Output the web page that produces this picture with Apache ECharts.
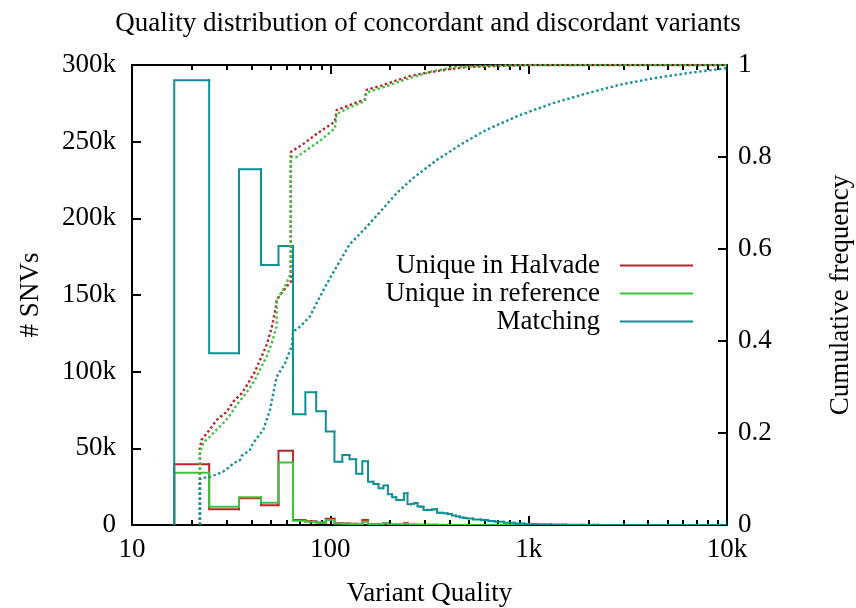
<!DOCTYPE html>
<html>
<head>
<meta charset="utf-8">
<title>Quality distribution of concordant and discordant variants</title>
<script src="https://cdn.jsdelivr.net/npm/echarts@6/dist/echarts.min.js"></script>
<style>
  html, body { margin: 0; padding: 0; background: #fff; }
  #chart { width: 856px; height: 608px; }
</style>
</head>
<body>
<div id="chart"></div>
<script>
// Histogram bin centres (variant quality); spacing widens in the sparse tail
const qualBins = [
  20, 30, 40, 50, 60, 70, 80, 90, 100, 110, 120, 130, 140, 150, 160, 170, 180, 190,
  200, 210, 220, 230, 240, 250, 260, 270, 280, 290, 300, 310, 320, 330, 340, 350,
  360, 380, 400, 420, 440, 460, 480, 500, 550, 600, 650, 700, 800, 900, 1000,
  1200, 1400, 1700, 2000, 2500, 3000, 4000, 6000, 10000
];

// SNV counts per bin
const halvadeCounts = [
  39600, 10200, 17400, 12800, 48500, 3300, 2400, 1600, 4100, 1100, 900, 800, 700, 3300, 500, 500, 400, 900,
  300, 300, 300, 200, 1200, 200, 200, 100, 100, 100, 100, 100, 100, 100, 100, 50,
  50, 50, 50, 40, 40, 30, 30, 20, 20, 10, 10, 10, 0, 0, 0,
  0, 0, 0, 0, 0, 0, 0, 0, 0
];
const referenceCounts = [
  34100, 11900, 18100, 14500, 40700, 2800, 2200, 1500, 3300, 900, 800, 700, 600, 2200, 500, 400, 400, 1100,
  300, 200, 200, 200, 800, 200, 200, 100, 100, 100, 100, 100, 100, 100, 100, 50,
  50, 50, 50, 40, 40, 30, 30, 20, 20, 10, 10, 10, 0, 0, 0,
  0, 0, 0, 0, 0, 0, 0, 0, 0
];
const matchingCounts = [
  290000, 112000, 232000, 169600, 182000, 72300, 86500, 74200, 60900, 41300, 45600, 42800, 33500, 41500, 28200, 26700, 23900, 25800,
  20000, 18100, 16300, 16300, 20700, 13500, 13800, 14300, 12000, 11900, 9800, 9800, 9800, 10200, 10200, 8000,
  8000, 7600, 7200, 6200, 5500, 4900, 4600, 4200, 3600, 3300, 2600, 2200, 1400, 900, 650,
  450, 330, 200, 120, 60, 30, 10, 0, 0
];

// Cumulative frequency curves: [quality, fraction]
const halvadeCumulative = [
  [22.0, 0], [22.0, 0.167], [22.4, 0.185], [24.2, 0.203], [26.7, 0.228], [30.0, 0.246], [32.4, 0.268],
  [35.7, 0.286], [38.5, 0.308], [41.6, 0.333], [45.0, 0.366], [47.7, 0.391], [50.6, 0.428], [53.0, 0.471],
  [53.6, 0.489], [56.8, 0.504], [60.2, 0.518], [63.2, 0.529], [63.2, 0.811], [72.9, 0.828], [85.2, 0.85],
  [98.3, 0.868], [105.4, 0.877], [107.5, 0.902], [125.4, 0.913], [149.2, 0.925], [152.2, 0.946],
  [177.6, 0.954], [207.2, 0.964], [251.5, 0.976], [305.3, 0.983], [399.9, 0.991], [504.5, 0.996],
  [739.6, 0.998], [1012, 1.0], [10000, 1.0]
];
const referenceCumulative = [
  [22.0, 0], [22.0, 0.159], [23.05, 0.181], [24.7, 0.192], [26.7, 0.207], [29.4, 0.225], [31.2, 0.239],
  [33.7, 0.261], [36.4, 0.279], [38.5, 0.293], [41.6, 0.315], [44.1, 0.337], [47.7, 0.366], [50.6, 0.395],
  [53.6, 0.431], [53.6, 0.489], [59.0, 0.518], [63.2, 0.547], [63.2, 0.80], [67.6, 0.80], [88.5, 0.835],
  [105.4, 0.862], [107.5, 0.893], [125.4, 0.908], [149.2, 0.921], [152.2, 0.94], [177.6, 0.949],
  [215.5, 0.962], [317.2, 0.985], [414.1, 0.995], [612.3, 0.998], [1012, 1.0], [10000, 1.0]
];
const matchingCumulative = [
  [22.0, 0], [22.0, 0.100], [22.8, 0.102], [25.7, 0.107], [28.8, 0.116], [31.2, 0.127], [32.4, 0.134],
  [35.0, 0.141], [35.7, 0.15], [39.3, 0.163], [40.8, 0.178], [45.9, 0.207], [49.6, 0.25], [53.6, 0.322],
  [59.0, 0.351], [63.8, 0.388], [64.9, 0.42], [70.2, 0.431], [78.8, 0.453], [88.5, 0.496], [99.4, 0.536],
  [125, 0.61], [150, 0.645], [184.5, 0.688], [215.5, 0.721], [261.3, 0.754], [342.8, 0.793],
  [449.2, 0.826], [612.3, 0.859], [900.8, 0.891], [1326, 0.917], [1953, 0.938], [2873, 0.957],
  [4229, 0.971], [6231, 0.982], [10000, 0.993]
];

// Axis ticks
const majorQualTicks = [10, 100, 1000, 10000];
const minorQualTicks = [20, 30, 40, 50, 60, 70, 80, 90, 200, 300, 400, 500, 600, 700, 800, 900,
  2000, 3000, 4000, 5000, 6000, 7000, 8000, 9000];
const qualTickLabels = { 10: '10', 100: '100', 1000: '1k', 10000: '10k' };

const seriesNames = ['Unique in Halvade', 'Unique in reference', 'Matching'];
const RED = '#b8242a';
const GREEN = '#3cc23c';
const TEAL = '#0e9095';
const FONT = '"Liberation Serif", "Times New Roman", serif';
const FS = 27;

// Draws one bin of a step histogram: rise from the previous bin's level at the
// left edge, then across to the right edge. Edges sit at geometric midpoints
// between neighbouring bin centres (midpoints on the log axis).
function histStep(values, color) {
  return function (params, api) {
    const i = params.dataIndex;
    const n = qualBins.length;
    const q = qualBins[i];
    const lo = i === 0 ? q * Math.sqrt(q / qualBins[1]) : Math.sqrt(qualBins[i - 1] * q);
    const hi = i === n - 1 ? q * Math.sqrt(q / qualBins[n - 2]) : Math.sqrt(q * qualBins[i + 1]);
    const prev = i === 0 ? 0 : values[i - 1];
    const a = api.coord([lo, prev]);
    const b = api.coord([lo, values[i]]);
    const c = api.coord([hi, values[i]]);
    return {
      type: 'polyline',
      shape: { points: [a, b, c] },
      style: { stroke: color, lineWidth: 2, fill: null, lineCap: 'square', lineJoin: 'miter' }
    };
  };
}

function histSeries(name, values, color) {
  return {
    name: name,
    type: 'custom',
    xAxisIndex: 0,
    yAxisIndex: 0,
    clip: true,
    silent: true,
    itemStyle: { color: color },
    renderItem: histStep(values, color),
    encode: { x: 0, y: 1 },
    data: qualBins.map((q, i) => [q, values[i]])
  };
}

function cumulativeSeries(name, points, color) {
  return {
    name: name,
    type: 'line',
    xAxisIndex: 0,
    yAxisIndex: 1,
    showSymbol: false,
    silent: true,
    clip: true,
    lineStyle: { color: color, width: 2.4, type: [2.4, 2.6], cap: 'butt' },
    data: points
  };
}

function qualAxis(position, ticks, tickLen, withLabels) {
  return {
    type: 'log',
    logBase: 10,
    position: position,
    min: 10,
    max: 10000,
    axisLine: { show: false },
    splitLine: { show: false },
    axisTick: { show: true, inside: true, length: tickLen, customValues: ticks,
      lineStyle: { color: '#000', width: 2 } },
    axisLabel: withLabels ? {
      show: true, customValues: majorQualTicks, margin: 11,
      fontFamily: FONT, fontSize: FS, color: '#000',
      formatter: v => qualTickLabels[Math.round(v)] || ''
    } : { show: false }
  };
}

const chart = echarts.init(document.getElementById('chart'), null, { renderer: 'canvas' });

const xMain = qualAxis('bottom', majorQualTicks, 9, true);
xMain.name = 'Variant Quality';
xMain.nameLocation = 'middle';
xMain.nameGap = 55;
xMain.nameTextStyle = { fontFamily: FONT, fontSize: FS, color: '#000' };

chart.setOption({
  animation: false,
  backgroundColor: '#fff',
  title: {
    text: 'Quality distribution of concordant and discordant variants',
    left: 'center',
    top: 5,
    textStyle: { fontFamily: FONT, fontSize: FS, fontWeight: 'normal', color: '#000' }
  },
  legend: {
    orient: 'vertical',
    align: 'right',
    right: 163,
    top: 252,
    padding: 0,
    itemGap: 1,
    itemWidth: 73,
    itemHeight: 2,
    selectedMode: false,
    textStyle: { fontFamily: FONT, fontSize: FS, color: '#000', padding: [0, 15, 0, 0] },
    data: [
      { name: seriesNames[0], icon: 'rect', itemStyle: { color: RED } },
      { name: seriesNames[1], icon: 'rect', itemStyle: { color: GREEN } },
      { name: seriesNames[2], icon: 'rect', itemStyle: { color: TEAL } }
    ]
  },
  grid: {
    left: 132, right: 129, top: 65, bottom: 83,
    outerBoundsMode: 'none',
    containLabel: false,
    show: true, borderColor: '#000', borderWidth: 2, backgroundColor: 'transparent'
  },
  xAxis: [
    xMain,
    qualAxis('bottom', minorQualTicks, 5, false),
    qualAxis('top', majorQualTicks, 9, false),
    qualAxis('top', minorQualTicks, 5, false)
  ],
  yAxis: [
    {
      type: 'value', position: 'left', min: 0, max: 300000, interval: 50000,
      name: '# SNVs', nameLocation: 'middle', nameGap: 88, nameRotate: 90,
      nameTextStyle: { fontFamily: FONT, fontSize: FS, color: '#000' },
      axisLine: { show: false },
      splitLine: { show: false },
      axisTick: { show: true, inside: true, length: 9, lineStyle: { color: '#000', width: 2 } },
      axisLabel: {
        margin: 16, fontFamily: FONT, fontSize: FS, color: '#000',
        formatter: v => (v === 0 ? '0' : (v / 1000) + 'k')
      }
    },
    {
      type: 'value', position: 'right', min: 0, max: 1, interval: 0.2,
      name: 'Cumulative frequency', nameLocation: 'middle', nameGap: 100, nameRotate: 90,
      nameTextStyle: { fontFamily: FONT, fontSize: FS, color: '#000' },
      axisLine: { show: false },
      splitLine: { show: false },
      axisTick: { show: true, inside: true, length: 9, lineStyle: { color: '#000', width: 2 } },
      axisLabel: {
        margin: 11, fontFamily: FONT, fontSize: FS, color: '#000',
        formatter: v => (v === 0 ? '0' : (Math.abs(v - 1) < 1e-9 ? '1' : v.toFixed(1)))
      }
    }
  ],
  series: [
    histSeries(seriesNames[0], halvadeCounts, RED),
    histSeries(seriesNames[1], referenceCounts, GREEN),
    histSeries(seriesNames[2], matchingCounts, TEAL),
    cumulativeSeries('Halvade cumulative', halvadeCumulative, RED),
    cumulativeSeries('Reference cumulative', referenceCumulative, GREEN),
    cumulativeSeries('Matching cumulative', matchingCumulative, TEAL)
  ]
});
</script>
</body>
</html>
